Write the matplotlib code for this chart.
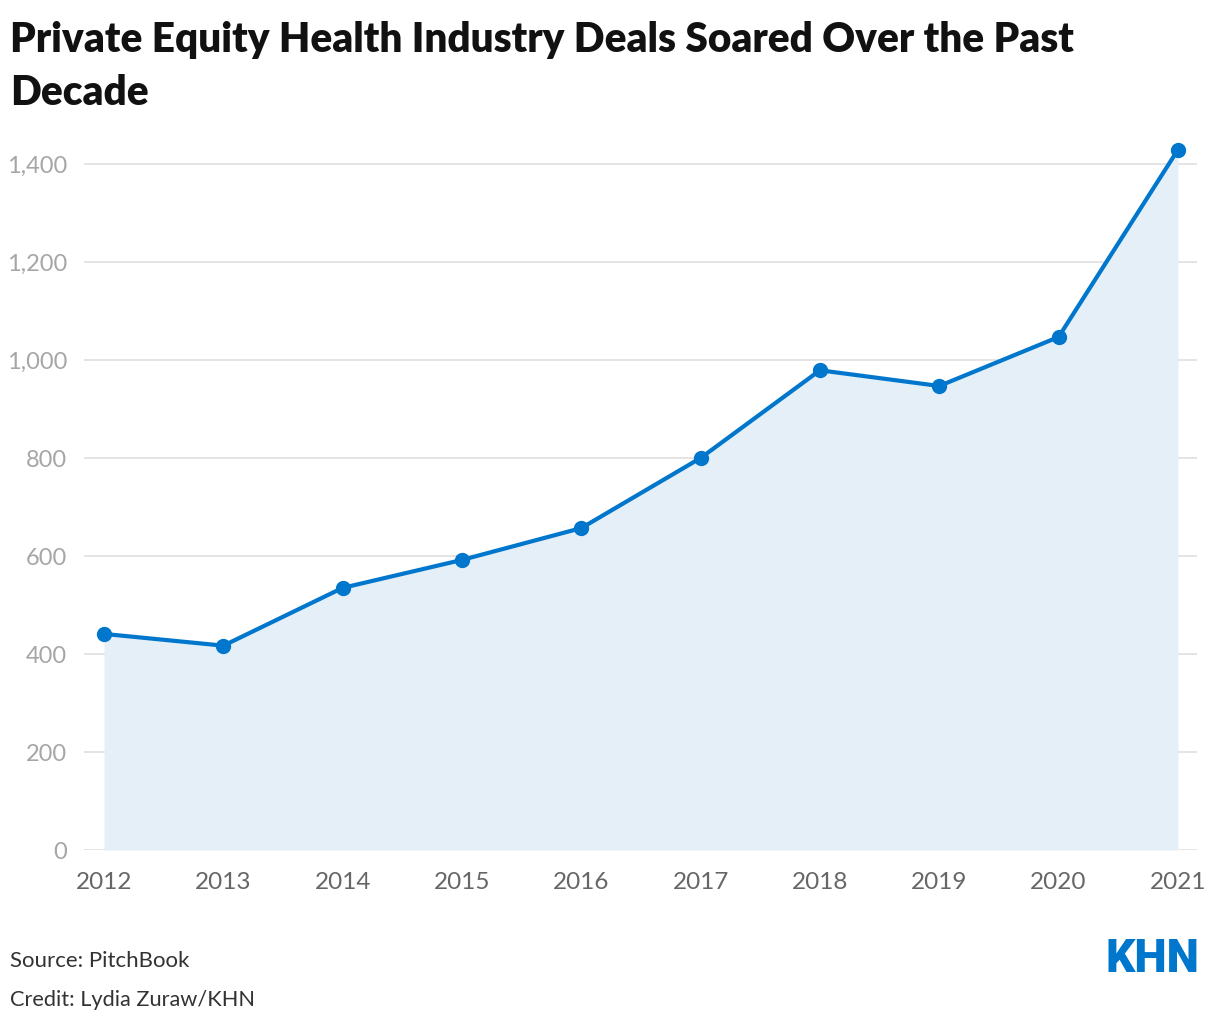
import matplotlib
matplotlib.use("Agg")
import matplotlib.pyplot as plt
from matplotlib.ticker import FuncFormatter

years = [2012, 2013, 2014, 2015, 2016, 2017, 2018, 2019, 2020, 2021]
deals = [441, 417, 535, 592, 657, 800, 979, 947, 1047, 1429]
yticks = [0, 200, 400, 600, 800, 1000, 1200, 1400]

W, H = 1220, 1022
fig = plt.figure(figsize=(W / 100, H / 100), dpi=100)
plt.rcParams['font.family'] = ['Lato', 'DejaVu Sans']

left, right, top, bottom = 84, 1197, 140, 850
ax = fig.add_axes([left / W, 1 - bottom / H, (right - left) / W, (bottom - top) / H])

line_color = '#0077cc'
ax.fill_between(years, deals, 0, color='#e5eff8', linewidth=0, zorder=1)
ax.plot(years, deals, color=line_color, linewidth=3, marker='o', markersize=10, zorder=3)

ax.set_xlim(2012 - 0.168, 2021 + 0.16)
ax.set_ylim(0, 1449)
ax.set_yticks(yticks)
ax.yaxis.set_major_formatter(FuncFormatter(lambda v, p: f"{int(v):,}"))
ax.set_xticks(years)
ax.set_xticklabels([str(y) for y in years])
ax.grid(axis='y', color='#e2e2e2', linewidth=1.3, zorder=0)
ax.grid(axis='x', visible=False)
for s in ax.spines.values():
    s.set_visible(False)
ax.tick_params(axis='y', length=0, pad=12, labelsize=17, labelcolor='#a6a6a6')
ax.tick_params(axis='x', length=0, pad=16, labelsize=17.5, labelcolor='#666666')
for lab in ax.get_yticklabels():
    lab.set_horizontalalignment('right')
ax.set_axisbelow(True)

fig.text(10 / W, 1 - 52 / H, "Private Equity Health Industry Deals Soared Over the Past",
         fontsize=29.2, fontweight='heavy', color='#111111', ha='left', va='baseline')
fig.text(10 / W, 1 - 105 / H, "Decade",
         fontsize=29.2, fontweight='heavy', color='#111111', ha='left', va='baseline')

fig.text(10 / W, 1 - 967 / H, "Source: PitchBook", fontsize=16, color='#333333',
         ha='left', va='baseline')
fig.text(10 / W, 1 - 1006 / H, "Credit: Lydia Zuraw/KHN", fontsize=15.7, color='#333333',
         ha='left', va='baseline')
fig.text(1199 / W, 1 - 972 / H, "KHN", fontsize=33, fontweight='black', color=line_color,
         ha='right', va='baseline', family=['Roboto', 'DejaVu Sans'])

fig.savefig("out.png", dpi=100, facecolor='white')
